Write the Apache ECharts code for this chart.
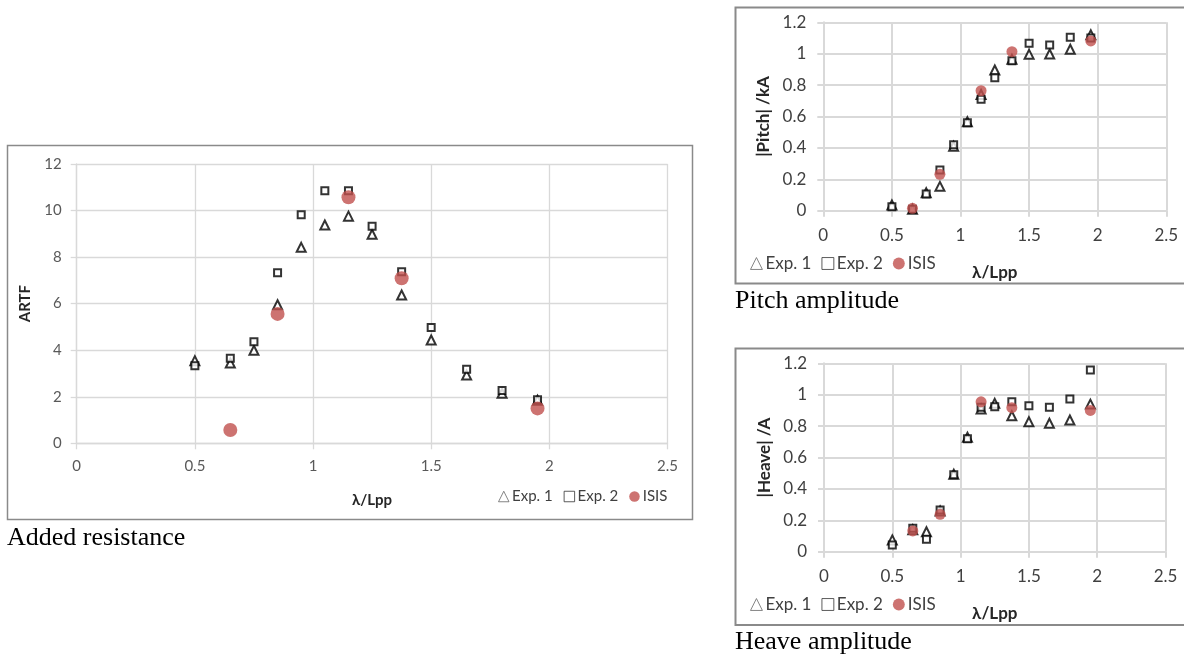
<!DOCTYPE html>
<html>
<head>
<meta charset="utf-8">
<script src="https://cdn.jsdelivr.net/npm/echarts@6/dist/echarts.min.js"></script>
<style>html,body{margin:0;padding:0;background:#fff;}#c{width:1184px;height:659px;}</style>
</head>
<body>
<div id="c"></div>
<script>
// ---- Data ----
const xExp = [0.5, 0.65, 0.75, 0.85, 0.95, 1.05, 1.15, 1.25, 1.375, 1.5, 1.65, 1.8, 1.95];
const xIsis = [0.65, 0.85, 1.15, 1.375, 1.95];

const artfExp1 = [3.55, 3.45, 4.0, 5.95, 8.42, 9.38, 9.76, 8.98, 6.37, 4.44, 2.93, 2.15, 1.85];
const artfExp2 = [3.33, 3.65, 4.36, 7.33, 9.82, 10.85, 10.85, 9.33, 7.37, 4.98, 3.18, 2.27, 1.87];
const artfIsis = [0.57, 5.56, 10.57, 7.09, 1.5];

const pitchExp1 = [0.036, 0.01, 0.115, 0.155, 0.41, 0.567, 0.74, 0.896, 0.964, 0.996, 0.998, 1.028, 1.12];
const pitchExp2 = [0.025, 0.01, 0.106, 0.26, 0.42, 0.56, 0.71, 0.847, 0.955, 1.066, 1.055, 1.104, 1.10];
const pitchIsis = [0.015, 0.232, 0.764, 1.013, 1.081];

const heaveExp1 = [0.075, 0.14, 0.127, 0.26, 0.493, 0.729, 0.909, 0.945, 0.866, 0.828, 0.818, 0.839, 0.94];
const heaveExp2 = [0.043, 0.149, 0.079, 0.266, 0.49, 0.72, 0.92, 0.924, 0.955, 0.93, 0.92, 0.972, 1.157];
const heaveIsis = [0.132, 0.238, 0.955, 0.917, 0.9];

const xTicks = [0, 0.5, 1, 1.5, 2, 2.5];
const names = ['Exp. 1', 'Exp. 2', 'ISIS'];
const captions = ['Added resistance', 'Pitch amplitude', 'Heave amplitude'];
const yNames = ['ARTF', '|Pitch| /kA', '|Heave| /A'];
const xName = 'λ/Lpp';

function pairs(xs, ys) { return xs.map((x, i) => [x, ys[i]]); }

const FONT = 'Lato, "Open Sans", sans-serif';
const RED = '#C0504D';
const GRID = '#D9D9D9';

function xAxisCfg(gi, fs, col, gap, margin) {
  const w = gi === 0 ? 1.3 : 2;
  return {
    gridIndex: gi, type: 'value', min: 0, max: 2.5, interval: 0.5,
    name: xName, nameLocation: 'middle', nameGap: gap,
    nameTextStyle: { fontFamily: FONT, fontWeight: 'bold', fontSize: fs, color: '#262626' },
    axisLine: { show: true, lineStyle: { color: GRID, width: w } },
    axisTick: { show: true, length: 6, lineStyle: { color: GRID, width: w } },
    axisLabel: { fontFamily: FONT, fontSize: fs, color: col, margin: margin,
      formatter: v => String(v) },
    splitLine: { show: true, lineStyle: { color: GRID, width: w } }
  };
}
function yAxisCfg(gi, fs, col, max, interval, gap, margin) {
  const w = gi === 0 ? 1.3 : 2;
  return {
    gridIndex: gi, type: 'value', min: 0, max: max, interval: interval,
    name: yNames[gi], nameLocation: 'middle', nameGap: gap, nameRotate: 90,
    nameTextStyle: { fontFamily: FONT, fontWeight: 'bold', fontSize: fs, color: '#262626' },
    axisLine: { show: true, lineStyle: { color: GRID, width: w } },
    axisTick: { show: true, length: 6, lineStyle: { color: GRID, width: w } },
    axisLabel: { fontFamily: FONT, fontSize: fs, color: col, margin: margin,
      formatter: v => String(Math.round(v * 10) / 10) },
    splitLine: { show: true, lineStyle: { color: GRID, width: w } }
  };
}

function sers(gi, e1, e2, is, big) {
  const bw = 2;
  return [
    { name: names[0], type: 'scatter', xAxisIndex: gi, yAxisIndex: gi, data: pairs(xExp, e1),
      symbol: 'triangle', symbolSize: 9,
      itemStyle: { color: '#fff', borderColor: '#000', borderWidth: bw }, z: 2 },
    { name: names[1], type: 'scatter', xAxisIndex: gi, yAxisIndex: gi, data: pairs(xExp, e2),
      symbol: 'rect', symbolSize: 7,
      itemStyle: { color: '#fff', borderColor: '#000', borderWidth: bw }, z: 3 },
    { name: names[2], type: 'scatter', xAxisIndex: gi, yAxisIndex: gi, data: pairs(xIsis, is),
      symbol: 'circle', symbolSize: big ? 14 : 11,
      itemStyle: { color: RED }, z: 4 }
  ];
}

function legendCfg(left, top, fs, gap) {
  return {
    left: left, top: top, orient: 'horizontal', itemGap: gap,
    itemWidth: fs * 0.7, itemHeight: fs * 0.7,
    textStyle: { fontFamily: FONT, fontSize: fs, color: '#404040', padding: [0, 0, 0, -2] },
    data: [
      { name: names[0], icon: 'triangle', itemStyle: { color: '#fff', borderColor: '#666', borderWidth: 1 } },
      { name: names[1], icon: 'rect', itemStyle: { color: '#fff', borderColor: '#333', borderWidth: 1 } },
      { name: names[2], icon: 'circle', itemStyle: { color: RED } }
    ]
  };
}

const chart = echarts.init(document.getElementById('c'), null, { renderer: 'canvas' });
chart.setOption({
  backgroundColor: '#fff',
  animation: false,
  grid: [
    { left: 76.7, right: 1184 - 667.5, top: 164, bottom: 659 - 443.3 },
    { left: 823.3, right: 1184 - 1166.3, top: 22.3, bottom: 659 - 210.7 },
    { left: 824, right: 1184 - 1165.5, top: 363.3, bottom: 659 - 551.7 }
  ],
  xAxis: [
    xAxisCfg(0, 15, '#595959', 49, 15),
    xAxisCfg(1, 17, '#404040', 53, 16),
    xAxisCfg(2, 17, '#404040', 53, 16)
  ],
  yAxis: [
    yAxisCfg(0, 15, '#595959', 12, 2, 44, 15),
    yAxisCfg(1, 17, '#404040', 1.2, 0.2, 51, 17),
    yAxisCfg(2, 17, '#404040', 1.2, 0.2, 51, 17)
  ],
  legend: [
    legendCfg(493, 484, 15, 11),
    legendCfg(745, 250, 17, 10),
    legendCfg(745, 591, 17, 10)
  ],
  series: [].concat(
    sers(0, artfExp1, artfExp2, artfIsis, true),
    sers(1, pitchExp1, pitchExp2, pitchIsis, false),
    sers(2, heaveExp1, heaveExp2, heaveIsis, false)
  ),
  graphic: [
    { type: 'rect', shape: { x: 7.5, y: 145.5, width: 685, height: 374 },
      style: { fill: 'none', stroke: '#8a8a8a', lineWidth: 1.5 }, z: -1 },
    { type: 'rect', shape: { x: 735.5, y: 7.5, width: 470, height: 276 },
      style: { fill: 'none', stroke: '#8a8a8a', lineWidth: 2 }, z: -1 },
    { type: 'rect', shape: { x: 735.5, y: 348.5, width: 470, height: 276.5 },
      style: { fill: 'none', stroke: '#8a8a8a', lineWidth: 2 }, z: -1 },
    { type: 'text', left: 7, top: 525,
      style: { text: captions[0], font: '26px "Liberation Serif", "Times New Roman", serif', fill: '#000' } },
    { type: 'text', left: 735, top: 288,
      style: { text: captions[1], font: '26px "Liberation Serif", "Times New Roman", serif', fill: '#000' } },
    { type: 'text', left: 735, top: 629,
      style: { text: captions[2], font: '26px "Liberation Serif", "Times New Roman", serif', fill: '#000' } }
  ]
});
</script>
</body>
</html>
